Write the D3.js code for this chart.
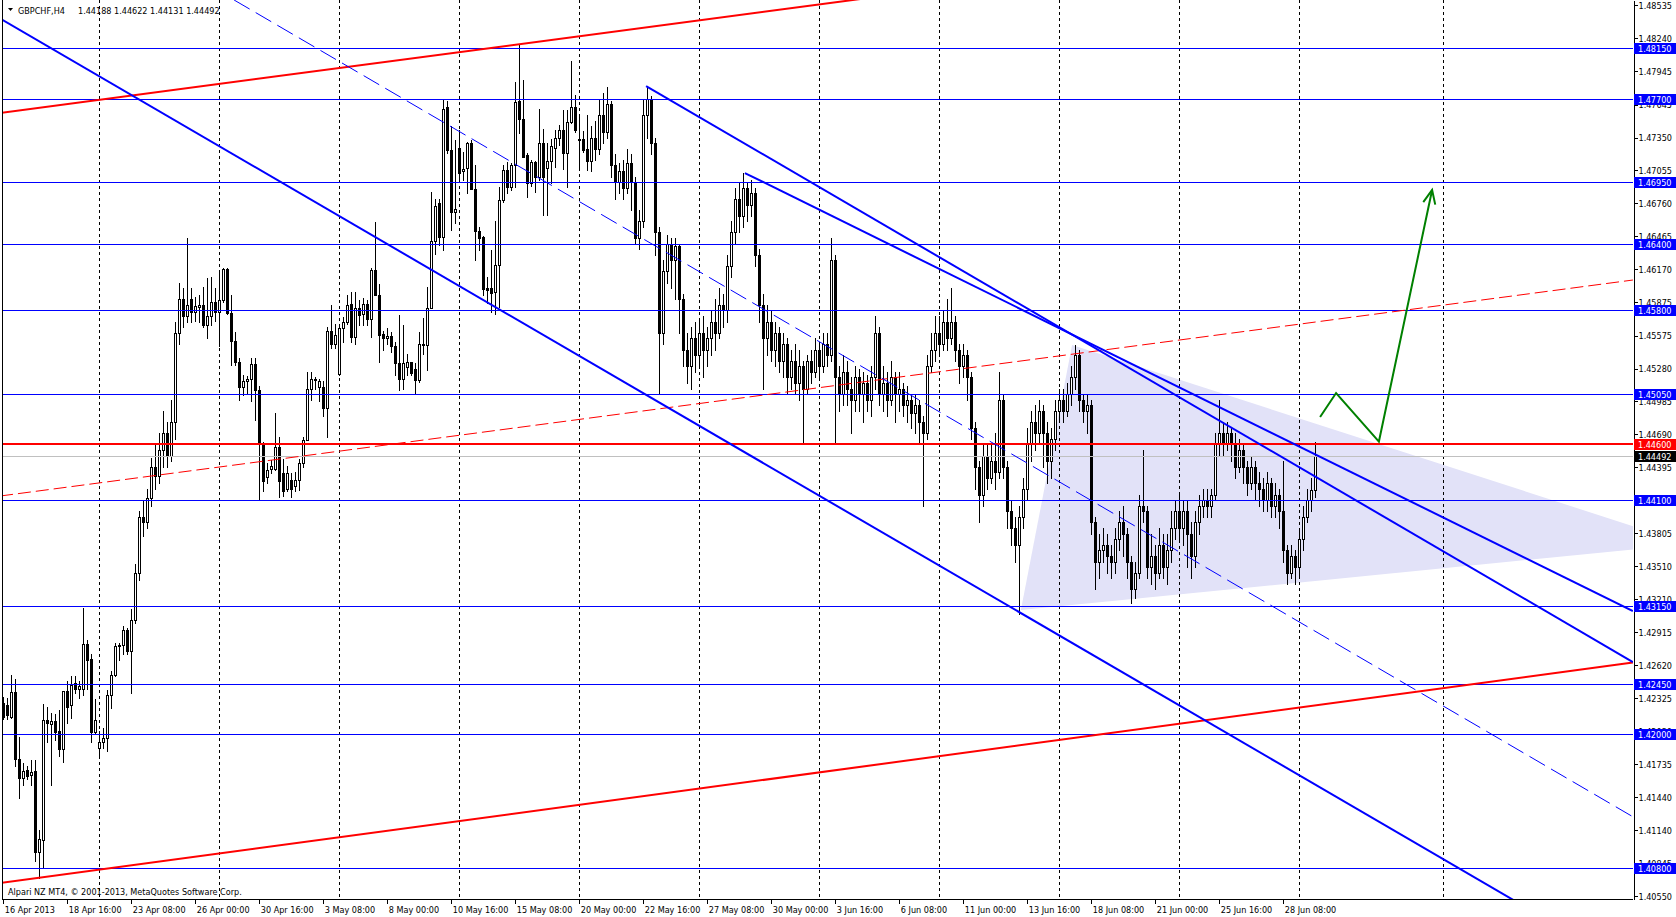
<!DOCTYPE html>
<html><head><meta charset="utf-8">
<script src="https://cdn.jsdelivr.net/npm/d3@7/dist/d3.min.js"></script>
<style>html,body{margin:0;padding:0;background:#fff;overflow:hidden}
text{font-family:"DejaVu Sans Condensed","DejaVu Sans",sans-serif;font-size:9px}</style>
</head><body>
<svg id="c" width="1676" height="917" xmlns="http://www.w3.org/2000/svg"></svg>
<script>
const symbolTitle = "GBPCHF,H4";
const lastQuote = [1.44188, 1.44622, 1.44131, 1.44492];
const copyright = "Alpari NZ MT4, \u00A9 2001-2013, MetaQuotes Software Corp.";

const open = [
1.4228,1.4226,1.4216,1.4238,1.4178,1.4161,1.4168,1.4164,1.4167,1.4095,
1.4105,1.4213,1.4209,1.4212,1.4203,1.4187,1.4239,1.4226,1.4246,1.4241,
1.4241,1.4281,1.4268,1.4202,1.4188,1.4193,1.4197,1.4235,1.4253,1.4279,
1.4280,1.4294,1.4275,1.4303,1.4345,1.4395,1.4390,1.4412,1.4440,1.4432,
1.4455,1.4470,1.4450,1.4480,1.4560,1.4590,1.4575,1.4590,1.4579,1.4583,
1.4585,1.4567,1.4575,1.4588,1.4579,1.4589,1.4617,1.4578,1.4553,1.4534,
1.4511,1.4517,1.4519,1.4532,1.4509,1.4461,1.4431,1.4438,1.4438,1.4458,
1.4434,1.4420,1.4428,1.4423,1.4428,1.4443,1.4464,1.4510,1.4519,1.4511,
1.4511,1.4493,1.4562,1.4550,1.4523,1.4564,1.4570,1.4586,1.4556,1.4582,
1.4577,1.4586,1.4572,1.4616,1.4594,1.4559,1.4555,1.4557,1.4548,1.4533,
1.4519,1.4529,1.4534,1.4528,1.4518,1.4550,1.4549,1.4582,1.4642,1.4676,
1.4646,1.4762,1.4724,1.4668,1.4726,1.4705,1.4708,1.4730,1.4689,1.4651,
1.4646,1.4600,1.4600,1.4597,1.4621,1.4679,1.4706,1.4691,1.4710,1.4768,
1.4752,1.4719,1.4694,1.4713,1.4700,1.4730,1.4708,1.4714,1.4726,1.4735,
1.4742,1.4721,1.4749,1.4762,1.4734,1.4734,1.4725,1.4714,1.4735,1.4725,
1.4755,1.4740,1.4765,1.4710,1.4695,1.4705,1.4690,1.4712,1.4695,1.4645,
1.4660,1.4755,1.4770,1.4730,1.4650,1.4560,1.4615,1.4640,1.4625,1.4638,
1.4590,1.4545,1.4530,1.4555,1.4540,1.4560,1.4545,1.4555,1.4570,1.4560,
1.4585,1.4580,1.4620,1.4650,1.4680,1.4665,1.4690,1.4675,1.4685,1.4630,
1.4585,1.4555,1.4570,1.4545,1.4560,1.4535,1.4550,1.4520,1.4535,1.4515,
1.4530,1.4510,1.4535,1.4525,1.4545,1.4530,1.4550,1.4540,1.4625,1.4520,
1.4505,1.4525,1.4510,1.4500,1.4520,1.4505,1.4515,1.4500,1.4520,1.4560,
1.4505,1.4515,1.4500,1.4520,1.4505,1.4510,1.4495,1.4500,1.4488,1.4495,
1.4480,1.4470,1.4530,1.4545,1.4560,1.4550,1.4570,1.4555,1.4570,1.4545,
1.4530,1.4540,1.4520,1.4475,1.4440,1.4415,1.4450,1.4430,1.4445,1.4435,
1.4500,1.4440,1.4400,1.4385,1.4370,1.4395,1.4420,1.4460,1.4480,1.4470,
1.4490,1.4470,1.4445,1.4465,1.4490,1.4500,1.4490,1.4505,1.4520,1.4540,
1.4500,1.4490,1.4495,1.4390,1.4355,1.4365,1.4370,1.4360,1.4355,1.4375,
1.4390,1.4380,1.4355,1.4330,1.4345,1.4405,1.4400,1.4350,1.4360,1.4345,
1.4370,1.4350,1.4365,1.4385,1.4400,1.4385,1.4400,1.4380,1.4360,1.4390,
1.4405,1.4410,1.4405,1.4415,1.4460,1.4470,1.4460,1.4470,1.4460,1.4440,
1.4455,1.4440,1.4425,1.4440,1.4425,1.4420,1.4410,1.4425,1.4405,1.4415,
1.4400,1.4365,1.4345,1.4360,1.4350,1.4375,1.4395,1.4410,1.44188];

const high = [
1.4234,1.4233,1.4253,1.4250,1.4198,1.4174,1.4172,1.4177,1.4177,1.4114,
1.4227,1.4225,1.4219,1.4218,1.4222,1.4239,1.4248,1.4252,1.4252,1.4248,
1.4313,1.4285,1.4272,1.4232,1.4203,1.4206,1.4240,1.4257,1.4282,1.4282,
1.4297,1.4295,1.4312,1.4353,1.4400,1.4410,1.4420,1.4448,1.4460,1.4470,
1.4490,1.4480,1.4500,1.4570,1.4605,1.4600,1.4645,1.4600,1.4592,1.4594,
1.4601,1.4609,1.4610,1.4600,1.4616,1.4618,1.4618,1.4594,1.4561,1.4537,
1.4522,1.4521,1.4537,1.4537,1.4512,1.4462,1.4443,1.4446,1.4488,1.4467,
1.4447,1.4441,1.4434,1.4435,1.4447,1.4467,1.4525,1.4525,1.4520,1.4519,
1.4517,1.4565,1.4585,1.4568,1.4565,1.4574,1.4594,1.4597,1.4597,1.4589,
1.4591,1.4589,1.4618,1.4659,1.4604,1.4562,1.4564,1.4561,1.4552,1.4576,
1.4567,1.4541,1.4534,1.4533,1.4561,1.4573,1.4601,1.4686,1.4680,1.4680,
1.4769,1.4768,1.4745,1.4733,1.4742,1.4722,1.4731,1.4733,1.4710,1.4655,
1.4647,1.4610,1.4634,1.4660,1.4691,1.4710,1.4713,1.4712,1.4785,1.4818,
1.4787,1.4721,1.4715,1.4714,1.4761,1.4743,1.4730,1.4734,1.4742,1.4746,
1.4760,1.4760,1.4804,1.4773,1.4755,1.4741,1.4755,1.4745,1.4750,1.4770,
1.4775,1.4780,1.4768,1.4720,1.4712,1.4715,1.4725,1.4720,1.4700,1.4670,
1.4770,1.4781,1.4772,1.4735,1.4655,1.4625,1.4648,1.4645,1.4645,1.4640,
1.4595,1.4560,1.4565,1.4570,1.4572,1.4575,1.4565,1.4580,1.4590,1.4600,
1.4595,1.4630,1.4660,1.4690,1.4695,1.4703,1.4695,1.4697,1.4690,1.4635,
1.4595,1.4585,1.4580,1.4570,1.4565,1.4560,1.4555,1.4545,1.4550,1.4545,
1.4535,1.4540,1.4545,1.4555,1.4552,1.4560,1.4560,1.4645,1.4630,1.4530,
1.4540,1.4535,1.4520,1.4530,1.4528,1.4525,1.4522,1.4530,1.4575,1.4565,
1.4530,1.4525,1.4535,1.4525,1.4525,1.4515,1.4512,1.4505,1.4505,1.4500,
1.4485,1.4540,1.4560,1.4575,1.4575,1.4580,1.4590,1.4600,1.4575,1.4550,
1.4550,1.4545,1.4525,1.4480,1.4445,1.4460,1.4460,1.4460,1.4470,1.4525,
1.4505,1.4445,1.4410,1.4395,1.4405,1.4430,1.4475,1.4490,1.4495,1.4500,
1.4495,1.4480,1.4475,1.4500,1.4510,1.4510,1.4515,1.4530,1.4549,1.4545,
1.4505,1.4505,1.4500,1.4395,1.4380,1.4385,1.4380,1.4370,1.4385,1.4400,
1.4405,1.4385,1.4360,1.4355,1.4415,1.4455,1.4405,1.4380,1.4370,1.4385,
1.4380,1.4380,1.4400,1.4410,1.4415,1.4410,1.4410,1.4390,1.4400,1.4415,
1.4420,1.4420,1.4420,1.4470,1.4500,1.4480,1.4480,1.4475,1.4470,1.4465,
1.4460,1.4445,1.4450,1.4445,1.4435,1.4430,1.4435,1.4430,1.4425,1.4420,
1.4445,1.4370,1.4370,1.4365,1.4385,1.4405,1.4420,1.4430,1.44622];

const low = [
1.4214,1.4214,1.4215,1.4172,1.4143,1.4155,1.4160,1.4155,1.4087,1.4071,
1.4080,1.4193,1.4155,1.4195,1.4181,1.4175,1.4210,1.4215,1.4237,1.4233,
1.4235,1.4241,1.4193,1.4201,1.4182,1.4188,1.4185,1.4224,1.4252,1.4267,
1.4272,1.4272,1.4237,1.4300,1.4338,1.4378,1.4385,1.4405,1.4420,1.4425,
1.4440,1.4440,1.4445,1.4465,1.4550,1.4565,1.4570,1.4570,1.4571,1.4570,
1.4565,1.4555,1.4567,1.4571,1.4548,1.4588,1.4577,1.4531,1.4531,1.4500,
1.4504,1.4506,1.4499,1.4482,1.4410,1.4418,1.4425,1.4434,1.4437,1.4413,
1.4414,1.4418,1.4413,1.4418,1.4419,1.4440,1.4464,1.4500,1.4510,1.4499,
1.4485,1.4467,1.4546,1.4546,1.4522,1.4552,1.4568,1.4552,1.4550,1.4567,
1.4567,1.4567,1.4556,1.4594,1.4534,1.4545,1.4550,1.4543,1.4522,1.4509,
1.4510,1.4522,1.4522,1.4506,1.4516,1.4541,1.4527,1.4582,1.4631,1.4639,
1.4634,1.4721,1.4652,1.4658,1.4695,1.4697,1.4685,1.4689,1.4625,1.4634,
1.4594,1.4587,1.4579,1.4577,1.4583,1.4677,1.4685,1.4688,1.4691,1.4739,
1.4718,1.4682,1.4692,1.4686,1.4697,1.4666,1.4666,1.4694,1.4709,1.4728,
1.4707,1.4691,1.4748,1.4740,1.4709,1.4722,1.4706,1.4705,1.4715,1.4720,
1.4730,1.4735,1.4700,1.4680,1.4685,1.4680,1.4685,1.4670,1.4640,1.4635,
1.4655,1.4735,1.4720,1.4630,1.4505,1.4550,1.4605,1.4600,1.4590,1.4560,
1.4530,1.4515,1.4510,1.4525,1.4530,1.4520,1.4530,1.4540,1.4545,1.4555,
1.4565,1.4570,1.4610,1.4640,1.4650,1.4655,1.4660,1.4665,1.4620,1.4570,
1.4510,1.4540,1.4535,1.4530,1.4525,1.4520,1.4505,1.4510,1.4505,1.4500,
1.4460,1.4505,1.4515,1.4520,1.4520,1.4525,1.4530,1.4535,1.4460,1.4490,
1.4495,1.4495,1.4470,1.4490,1.4490,1.4480,1.4490,1.4485,1.4510,1.4495,
1.4490,1.4485,1.4495,1.4480,1.4490,1.4485,1.4480,1.4475,1.4470,1.4460,
1.4405,1.4465,1.4525,1.4535,1.4540,1.4545,1.4545,1.4550,1.4535,1.4515,
1.4520,1.4500,1.4465,1.4420,1.4390,1.4405,1.4420,1.4425,1.4420,1.4430,
1.4430,1.4385,1.4370,1.4355,1.4308,1.4385,1.4410,1.4445,1.4455,1.4460,
1.4440,1.4425,1.4430,1.4455,1.4480,1.4480,1.4485,1.4495,1.4510,1.4490,
1.4480,1.4470,1.4380,1.4330,1.4340,1.4355,1.4345,1.4340,1.4345,1.4365,
1.4360,1.4340,1.4318,1.4322,1.4340,1.4390,1.4340,1.4335,1.4330,1.4340,
1.4340,1.4335,1.4355,1.4375,1.4375,1.4370,1.4350,1.4340,1.4350,1.4380,
1.4395,1.4395,1.4395,1.4410,1.4450,1.4450,1.4455,1.4445,1.4430,1.4435,
1.4425,1.4415,1.4420,1.4410,1.4405,1.4400,1.4400,1.4395,1.4395,1.4385,
1.4355,1.4335,1.4340,1.4335,1.4340,1.4365,1.4390,1.4400,1.44131];

const close = [
1.4216,1.4217,1.4238,1.4178,1.4161,1.4167,1.4163,1.4166,1.4095,1.4106,
1.4213,1.4210,1.4212,1.4202,1.4187,1.4239,1.4225,1.4244,1.4241,1.4243,
1.4281,1.4267,1.4202,1.4213,1.4193,1.4197,1.4235,1.4253,1.4279,1.4280,
1.4294,1.4275,1.4303,1.4345,1.4395,1.4390,1.4412,1.4440,1.4432,1.4455,
1.4470,1.4450,1.4480,1.4560,1.4590,1.4575,1.4585,1.4579,1.4584,1.4585,
1.4567,1.4575,1.4588,1.4579,1.4589,1.4617,1.4578,1.4553,1.4534,1.4511,
1.4517,1.4519,1.4532,1.4509,1.4461,1.4427,1.4437,1.4441,1.4458,1.4427,
1.4418,1.4434,1.4420,1.4428,1.4443,1.4464,1.4510,1.4519,1.4518,1.4517,
1.4493,1.4562,1.4550,1.4558,1.4564,1.4570,1.4585,1.4556,1.4582,1.4576,
1.4586,1.4572,1.4616,1.4594,1.4558,1.4555,1.4557,1.4548,1.4533,1.4519,
1.4533,1.4534,1.4524,1.4518,1.4550,1.4549,1.4582,1.4642,1.4674,1.4646,
1.4761,1.4724,1.4668,1.4671,1.4703,1.4707,1.4730,1.4689,1.4651,1.4645,
1.4599,1.4598,1.4596,1.4621,1.4679,1.4706,1.4691,1.4710,1.4767,1.4752,
1.4718,1.4694,1.4713,1.4700,1.4730,1.4700,1.4714,1.4727,1.4735,1.4742,
1.4721,1.4749,1.4762,1.4742,1.4733,1.4724,1.4714,1.4735,1.4725,1.4755,
1.4740,1.4765,1.4710,1.4695,1.4705,1.4690,1.4712,1.4695,1.4645,1.4660,
1.4755,1.4770,1.4730,1.4650,1.4560,1.4615,1.4640,1.4625,1.4638,1.4590,
1.4545,1.4530,1.4555,1.4540,1.4560,1.4545,1.4555,1.4570,1.4560,1.4585,
1.4580,1.4620,1.4650,1.4680,1.4665,1.4690,1.4675,1.4685,1.4630,1.4585,
1.4555,1.4570,1.4545,1.4560,1.4535,1.4550,1.4520,1.4535,1.4515,1.4530,
1.4510,1.4535,1.4525,1.4545,1.4530,1.4550,1.4540,1.4625,1.4520,1.4505,
1.4525,1.4510,1.4500,1.4520,1.4505,1.4515,1.4500,1.4520,1.4560,1.4505,
1.4515,1.4500,1.4520,1.4505,1.4510,1.4495,1.4500,1.4488,1.4495,1.4480,
1.4470,1.4530,1.4545,1.4560,1.4550,1.4570,1.4555,1.4570,1.4545,1.4530,
1.4540,1.4520,1.4475,1.4440,1.4415,1.4450,1.4430,1.4445,1.4435,1.4500,
1.4440,1.4400,1.4385,1.4370,1.4395,1.4420,1.4460,1.4480,1.4470,1.4490,
1.4470,1.4445,1.4465,1.4490,1.4500,1.4490,1.4505,1.4520,1.4540,1.4500,
1.4490,1.4495,1.4390,1.4355,1.4365,1.4370,1.4360,1.4355,1.4375,1.4390,
1.4380,1.4355,1.4330,1.4345,1.4405,1.4400,1.4350,1.4360,1.4345,1.4370,
1.4350,1.4365,1.4385,1.4400,1.4385,1.4400,1.4380,1.4360,1.4390,1.4405,
1.4410,1.4405,1.4415,1.4460,1.4470,1.4460,1.4470,1.4460,1.4440,1.4455,
1.4440,1.4425,1.4440,1.4425,1.4420,1.4410,1.4425,1.4405,1.4415,1.4400,
1.4365,1.4345,1.4360,1.4350,1.4375,1.4395,1.4410,1.4419,1.44492];

const timeLabels = ["16 Apr 2013","18 Apr 16:00","23 Apr 08:00","26 Apr 00:00","30 Apr 16:00",
 "3 May 08:00","8 May 00:00","10 May 16:00","15 May 08:00","20 May 00:00","22 May 16:00",
 "27 May 08:00","30 May 00:00","3 Jun 16:00","6 Jun 08:00","11 Jun 00:00","13 Jun 16:00",
 "18 Jun 08:00","21 Jun 00:00","25 Jun 16:00","28 Jun 08:00"];
const timeLabelBars = [0,16,32,48,64,80,96,112,128,144,160,176,192,208,224,240,256,272,288,304,320];
const weekSeparatorBars = [24,54,84,114,144,174,204,234,264,294,324,360];
const priceTicks = [1.48535,1.48240,1.47945,1.47645,1.47350,1.47055,1.46760,1.46465,1.46170,
 1.45875,1.45575,1.45280,1.44985,1.44690,1.44395,1.44100,1.43805,1.43510,1.43210,1.42915,
 1.42620,1.42325,1.42030,1.41735,1.41440,1.41140,1.40845,1.40550];
const blueLevels = [1.48150,1.47700,1.46950,1.46400,1.45800,1.45050,1.44100,1.43150,1.42450,1.42000,1.40800];
const redLevel = 1.44600;
const bidPrice = 1.44492;

// trend objects: anchor points as [bar, price]
const redChannel = {upper:[[-0.8,1.4757],[206.7,1.48556]], mid:[[-0.8,1.44137],[407.4,1.46073]], lower:[[-0.8,1.40668],[407.4,1.42645]]};
const blueChannelLower = [[-0.8,1.48417],[407.4,1.39892]];
const blueChannelMid = [[57.7,1.48583],[407.4,1.41262]];
const blueLine1 = [[185.4,1.47032],[407.4,1.43106]];
const blueLine2 = [[160.7,1.47812],[407.4,1.42649]];
const trianglePts = [[254.4,1.43115],[267.2,1.45491],[421.2,1.43707]];
const greenPath = [[329.2,1.44845],[333.2,1.45060],[343.9,1.44625],[357.2,1.46880]];

const W = 1676, H = 917;
const PL = 2, PR = 1633, PT = 0, PB = 899;
const x = d3.scaleLinear().domain([0, 1]).range([3.3, 7.3]);
const y = d3.scaleLinear().domain([1.40525, 1.48583]).range([PB, PT]);

const svg = d3.select("#c");
svg.append("rect").attr("width", W).attr("height", H).attr("fill", "#fff");
svg.append("defs").append("clipPath").attr("id", "clip")
  .append("rect").attr("x", PL).attr("y", PT).attr("width", PR - PL).attr("height", PB - PT);

const plot = svg.append("g").attr("clip-path", "url(#clip)");

// extend a line to a bar position
function ext(pts, toBar) {
  const [[b1, p1], [b2, p2]] = pts;
  const p = p1 + (p2 - p1) * (toBar - b1) / (b2 - b1);
  return [[b1, p1], [toBar, p]];
}
const lineGen = d3.line().x(d => x(d[0])).y(d => y(d[1]));

// triangle (background)
plot.append("path")
  .attr("d", lineGen(trianglePts) + "Z")
  .attr("fill", "#E2E2F8").attr("stroke", "none");

// week separators
plot.append("g").selectAll("line").data(weekSeparatorBars).join("line")
  .attr("x1", d => Math.floor(x(d)) + 0.5).attr("x2", d => Math.floor(x(d)) + 0.5)
  .attr("y1", PT).attr("y2", PB)
  .attr("stroke", "#000").attr("stroke-width", 1).attr("stroke-dasharray", "3,3")
  .attr("shape-rendering", "crispEdges");

// candles
const bars = d3.range(close.length).map(i => ({i, o: open[i], h: high[i], l: low[i], c: close[i]}));
const cg = plot.append("g").attr("shape-rendering", "crispEdges");
cg.selectAll("line.wick").data(bars).join("line").attr("class", "wick")
  .attr("x1", d => Math.floor(x(d.i)) + 0.5).attr("x2", d => Math.floor(x(d.i)) + 0.5)
  .attr("y1", d => Math.round(y(d.h))).attr("y2", d => Math.round(y(d.l)) + 1)
  .attr("stroke", "#000");
cg.selectAll("rect.body").data(bars).join("rect").attr("class", "body")
  .each(function(d) {
    const cx = Math.floor(x(d.i));
    const yo = Math.round(y(d.o)), yc = Math.round(y(d.c));
    const top = Math.min(yo, yc), bot = Math.max(yo, yc);
    const r = d3.select(this);
    if (d.c < d.o) {
      r.attr("x", cx - 1).attr("y", top).attr("width", 3).attr("height", Math.max(1, bot - top + 1)).attr("fill", "#000");
    } else if (bot - top < 2) {
      r.attr("x", cx - 1).attr("y", top).attr("width", 3).attr("height", Math.max(1, bot - top + 1)).attr("fill", "#000");
    } else {
      r.attr("x", cx - 0.5).attr("y", top + 0.5).attr("width", 2).attr("height", bot - top)
        .attr("fill", "#fff").attr("stroke", "#000").attr("stroke-width", 1);
    }
  });

// horizontal levels
const hg = plot.append("g").attr("shape-rendering", "crispEdges");
hg.selectAll("line.blue").data(blueLevels).join("line").attr("class", "blue")
  .attr("x1", PL).attr("x2", PR).attr("y1", d => Math.round(y(d)) + 0.5).attr("y2", d => Math.round(y(d)) + 0.5)
  .attr("stroke", "#0000FF");
hg.append("line").attr("x1", PL).attr("x2", PR)
  .attr("y1", Math.round(y(bidPrice)) + 0.5).attr("y2", Math.round(y(bidPrice)) + 0.5)
  .attr("stroke", "#C0C0C0");
hg.append("line").attr("x1", PL).attr("x2", PR)
  .attr("y1", Math.round(y(redLevel))).attr("y2", Math.round(y(redLevel)))
  .attr("stroke", "#FF0000").attr("stroke-width", 2);

// trend lines
const tg = plot.append("g").attr("fill", "none");
tg.append("path").attr("d", lineGen(ext(redChannel.upper, 420))).attr("stroke", "#FF0000").attr("stroke-width", 2);
tg.append("path").attr("d", lineGen(redChannel.lower)).attr("stroke", "#FF0000").attr("stroke-width", 2);
tg.append("path").attr("d", lineGen(redChannel.mid)).attr("stroke", "#FF0000").attr("stroke-width", 1).attr("stroke-dasharray", "13,5");
tg.append("path").attr("d", lineGen(blueChannelLower)).attr("stroke", "#0000FF").attr("stroke-width", 2);
tg.append("path").attr("d", lineGen(ext(blueChannelMid, 420))).attr("stroke", "#0000FF").attr("stroke-width", 1).attr("stroke-dasharray", "18,7");
tg.append("path").attr("d", lineGen(blueLine1)).attr("stroke", "#0000FF").attr("stroke-width", 2);
tg.append("path").attr("d", lineGen(blueLine2)).attr("stroke", "#0000FF").attr("stroke-width", 2);

// green arrow
tg.append("path").attr("d", lineGen(greenPath)).attr("stroke", "#008000").attr("stroke-width", 2)
  .attr("stroke-linejoin", "miter");
{
  const n = greenPath.length;
  const tx = x(greenPath[n-1][0]), ty = y(greenPath[n-1][1]);
  const fx = x(greenPath[n-2][0]), fy = y(greenPath[n-2][1]);
  const ang = Math.atan2(ty - fy, tx - fx);
  const L = 15, a = 0.42;
  const p1 = [tx - L * Math.cos(ang - a), ty - L * Math.sin(ang - a)];
  const p2 = [tx - L * Math.cos(ang + a), ty - L * Math.sin(ang + a)];
  tg.append("path").attr("d", `M${p1[0]},${p1[1]}L${tx},${ty}L${p2[0]},${p2[1]}`)
    .attr("stroke", "#008000").attr("stroke-width", 2);
}

// left border
svg.append("line").attr("x1", PL + 0.5).attr("x2", PL + 0.5).attr("y1", PT).attr("y2", PB)
  .attr("stroke", "#000").attr("shape-rendering", "crispEdges");

// right price axis
const yAxis = d3.axisRight(y).tickValues(priceTicks).tickFormat(d3.format(".5f"))
  .tickSizeInner(4).tickSizeOuter(0).tickPadding(1);
const ya = svg.append("g").attr("transform", `translate(${PR + 0.5},0)`).call(yAxis);
ya.attr("font-family", null).attr("font-size", null);
ya.selectAll("path.domain").attr("stroke", "#000").attr("shape-rendering", "crispEdges");
ya.selectAll(".tick line").attr("stroke", "#000").attr("shape-rendering", "crispEdges");
ya.selectAll(".tick text").attr("fill", "#000").attr("dy", "0.36em");

// bottom time axis
const xAxis = d3.axisBottom(x).tickValues(timeLabelBars).tickFormat((d, i) => timeLabels[i])
  .tickSizeInner(4).tickSizeOuter(0).tickPadding(3);
const xa = svg.append("g").attr("transform", `translate(0,${PB + 0.5})`).call(xAxis);
xa.attr("font-family", null).attr("font-size", null);
xa.select("path.domain").attr("d", `M${PL},0H${PR}`).attr("stroke", "#000").attr("shape-rendering", "crispEdges");
xa.selectAll(".tick line").attr("stroke", "#000").attr("shape-rendering", "crispEdges")
  .attr("transform", "translate(-0.3,0)");
xa.selectAll(".tick text").attr("fill", "#000").attr("text-anchor", "start").attr("x", 1).attr("dy", "0.75em");

// price labels on axis
const labels = blueLevels.map(p => ({p, bg: "#0000FF"}))
  .concat([{p: redLevel, bg: "#FF0000"}, {p: bidPrice, bg: "#000000"}]);
const lg = svg.append("g");
labels.forEach(d => {
  const yy = Math.round(y(d.p));
  lg.append("rect").attr("x", PR + 1).attr("y", yy - 5).attr("width", W - PR - 1).attr("height", 11)
    .attr("fill", d.bg).attr("shape-rendering", "crispEdges");
  lg.append("text").attr("x", PR + 5).attr("y", yy + 4).attr("fill", "#fff").text(d3.format(".5f")(d.p));
});

// title
svg.append("path").attr("d", "M8,8L13,8L10.5,11Z").attr("fill", "#000");
svg.append("text").attr("x", 18).attr("y", 13.5).attr("fill", "#000").text(symbolTitle);
svg.append("text").attr("x", 78).attr("y", 13.5).attr("fill", "#000")
  .text(lastQuote.map(d3.format(".5f")).join(" "));

// copyright
svg.append("text").attr("x", 8).attr("y", 894.5).attr("fill", "#000").text(copyright);
</script>
</body></html>
